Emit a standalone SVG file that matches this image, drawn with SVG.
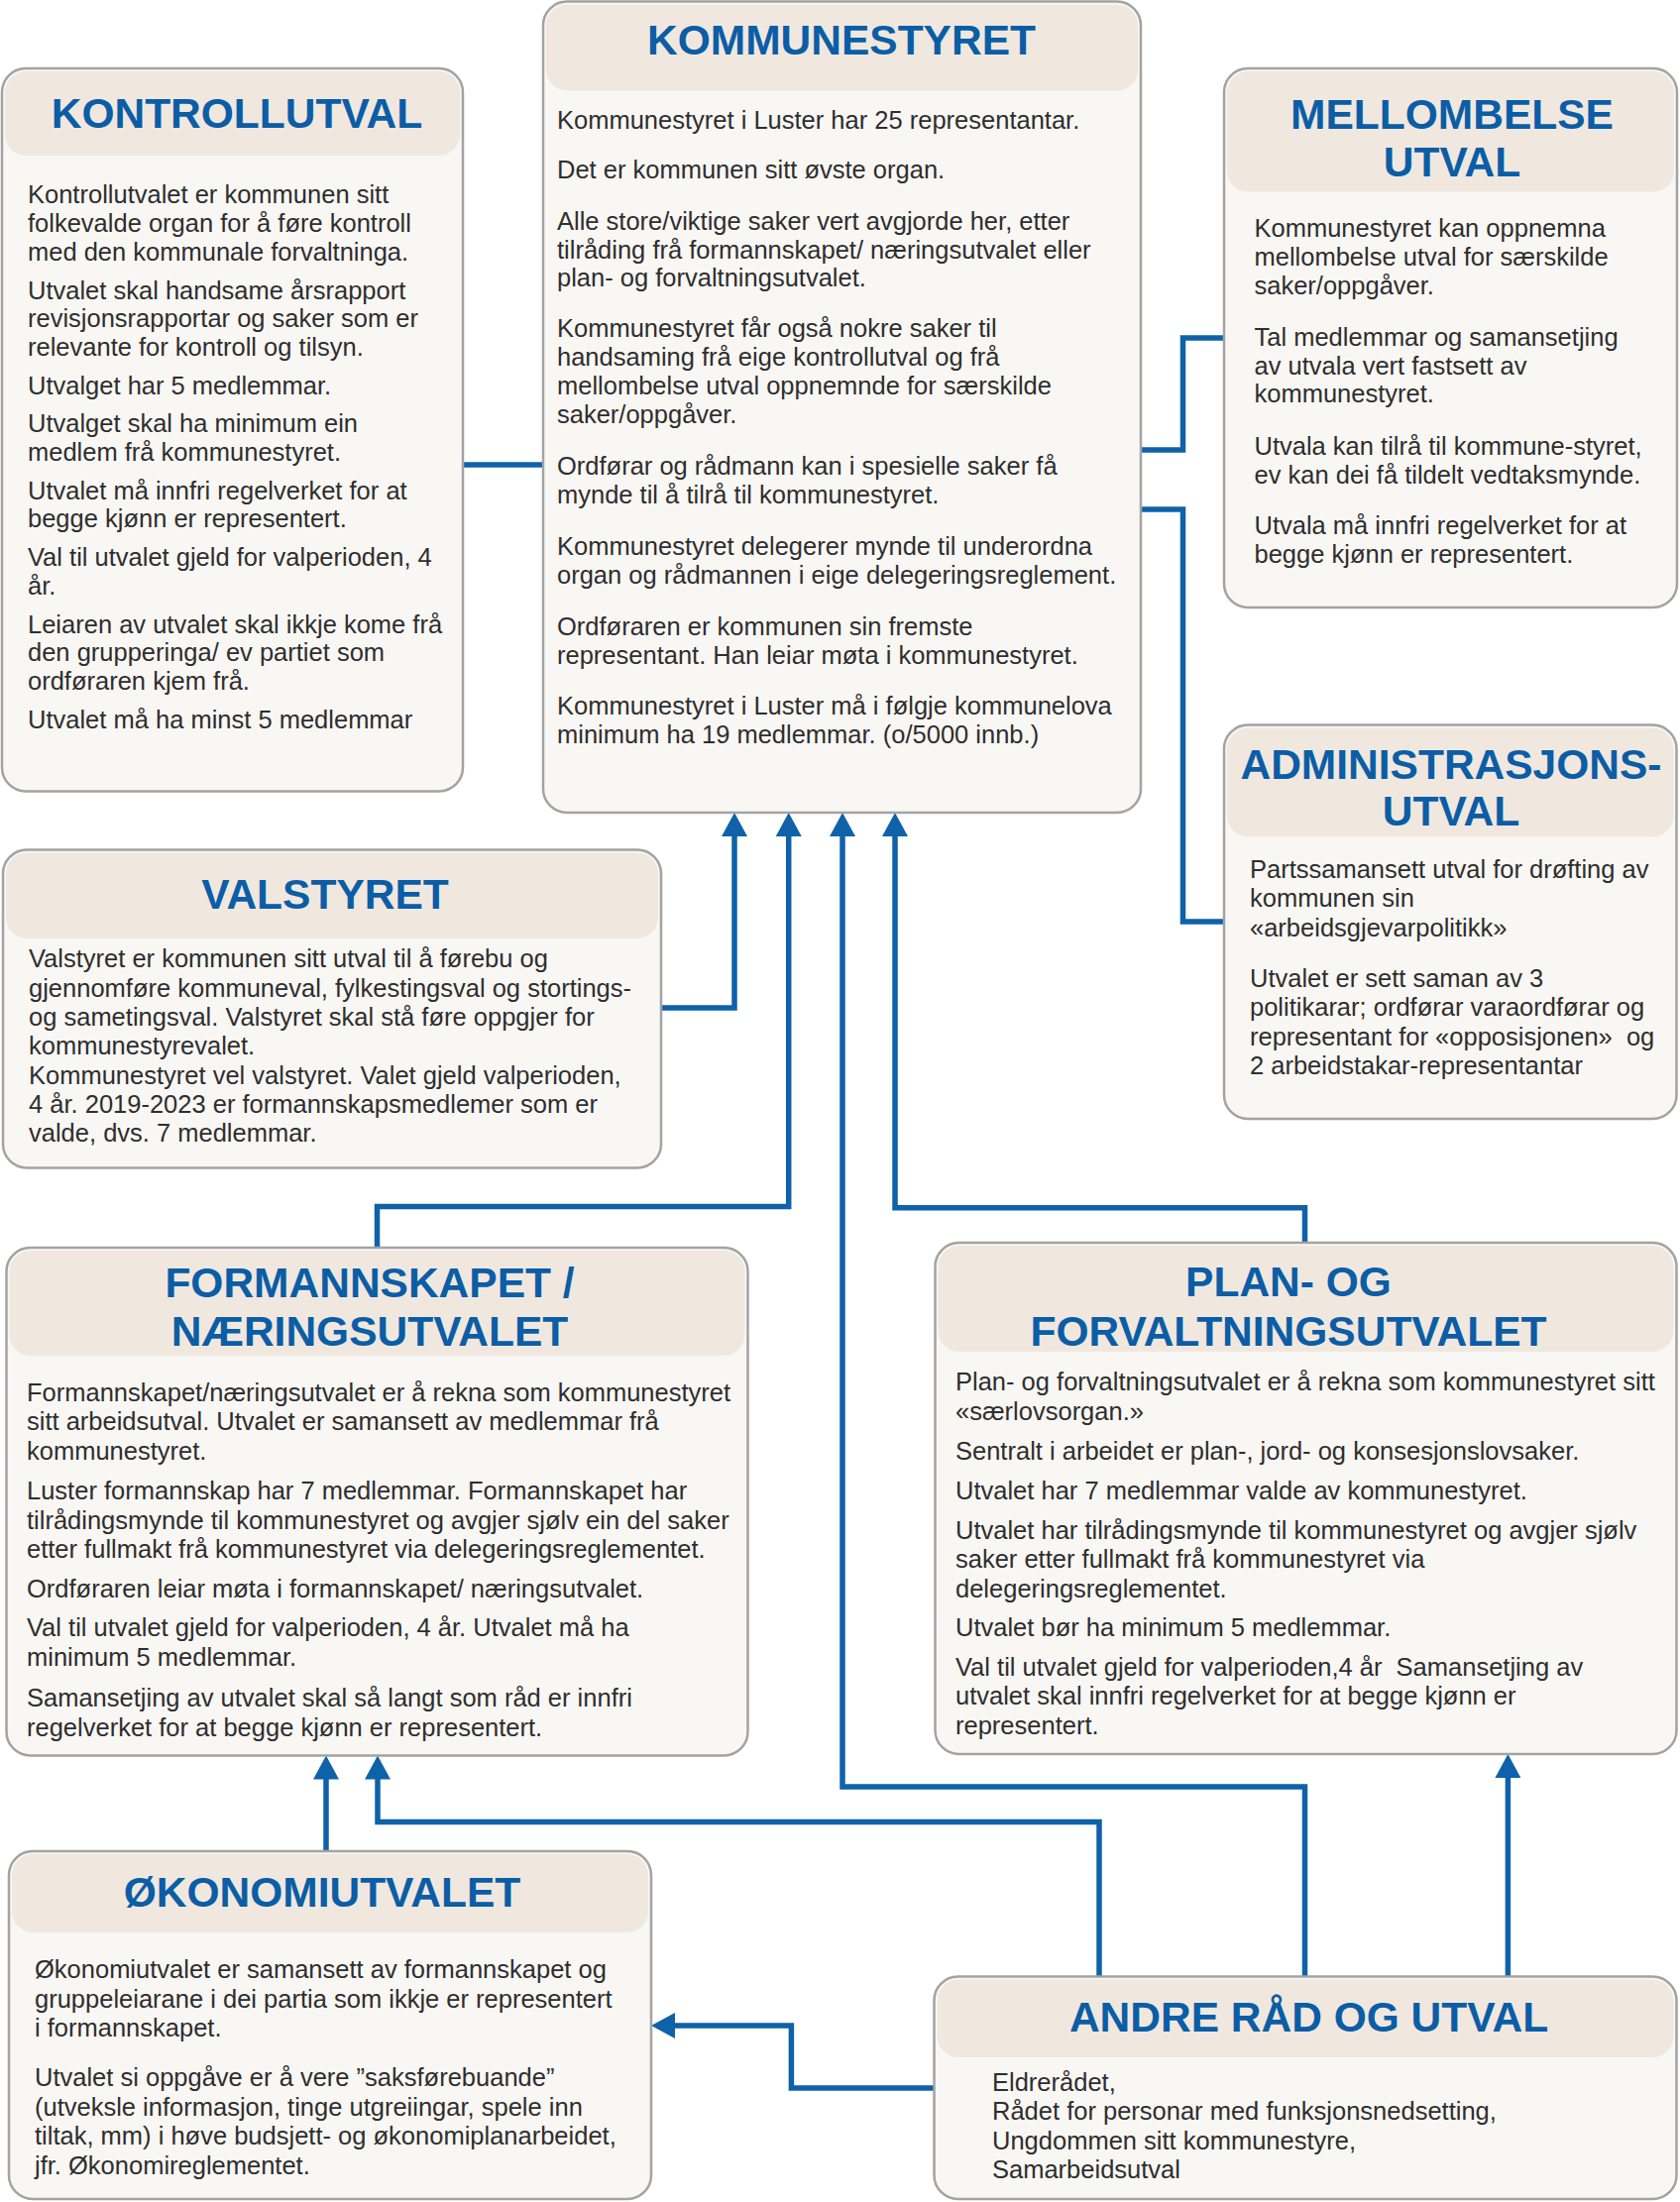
<svg xmlns="http://www.w3.org/2000/svg" width="1695" height="2222" viewBox="0 0 1695 2222">
<style>
.box{fill:#f9f7f4;stroke:#a3a3a3;stroke-width:2.5}
.hdr{fill:#f0e8df}
.ttl{font-family:"Liberation Sans",Arial,sans-serif;font-weight:bold;font-size:42.5px;fill:#0b5da6;text-anchor:middle}
.bd{font-family:"Liberation Sans",Arial,sans-serif;font-size:25.5px;fill:#2e2e2e}
.cn{fill:none;stroke:#0f62a9;stroke-width:5.5;stroke-linejoin:miter}
</style>
<defs>
<marker id="ah" markerUnits="userSpaceOnUse" markerWidth="24" markerHeight="26" refX="18" refY="13" orient="auto" viewBox="0 0 24 26"><path d="M0,0 L24,13 L0,26 z" fill="#0f62a9"/></marker>
</defs>
<rect width="1695" height="2222" fill="#ffffff"/>

<g id="connectors">
<path class="cn" d="M467,469 H548"/>
<path class="cn" d="M1151,454 H1193.5 V341 H1235"/>
<path class="cn" d="M1151,514 H1193.5 V930 H1235"/>
<path class="cn" d="M667,1017 H741 V826" marker-end="url(#ah)"/>
<path class="cn" d="M380.5,1259 V1217.5 H795.7 V826" marker-end="url(#ah)"/>
<path class="cn" d="M1316.5,1994.5 V1803 H850 V826" marker-end="url(#ah)"/>
<path class="cn" d="M1316.5,1254 V1218.8 H903 V826" marker-end="url(#ah)"/>
<path class="cn" d="M329,1868 V1777.5" marker-end="url(#ah)"/>
<path class="cn" d="M1109,1994.5 V1838.6 H381 V1777.5" marker-end="url(#ah)"/>
<path class="cn" d="M1521.4,1994.5 V1776" marker-end="url(#ah)"/>
<path class="cn" d="M942.5,2107 H798.4 V2044 H663" marker-end="url(#ah)"/>
</g>

<g id="kontrollutval">
<rect class="box" x="2" y="69" width="465" height="729.5" rx="24"/>
<rect class="hdr" x="5" y="72" width="459" height="85" rx="21"/>
<text class="ttl" x="239" y="129">KONTROLLUTVAL</text>
<text class="bd">
<tspan x="28" y="205">Kontrollutvalet er kommunen sitt</tspan>
<tspan x="28" y="233.8">folkevalde organ for å føre kontroll</tspan>
<tspan x="28" y="262.6">med den kommunale forvaltninga.</tspan>
<tspan x="28" y="301.5">Utvalet skal handsame årsrapport</tspan>
<tspan x="28" y="330.3">revisjonsrapportar og saker som er</tspan>
<tspan x="28" y="359.1">relevante for kontroll og tilsyn.</tspan>
<tspan x="28" y="397.5">Utvalget har 5 medlemmar.</tspan>
<tspan x="28" y="436">Utvalget skal ha minimum ein</tspan>
<tspan x="28" y="464.8">medlem frå kommunestyret.</tspan>
<tspan x="28" y="503.5">Utvalet må innfri regelverket for at</tspan>
<tspan x="28" y="532.3">begge kjønn er representert.</tspan>
<tspan x="28" y="571">Val til utvalet gjeld for valperioden, 4</tspan>
<tspan x="28" y="599.8">år.</tspan>
<tspan x="28" y="638.5">Leiaren av utvalet skal ikkje kome frå</tspan>
<tspan x="28" y="667.3">den grupperinga/ ev partiet som</tspan>
<tspan x="28" y="696.1">ordføraren kjem frå.</tspan>
<tspan x="28" y="735">Utvalet må ha minst 5 medlemmar</tspan>
</text>
</g>

<g id="kommunestyret">
<rect class="box" x="548" y="1.5" width="603" height="818.5" rx="24"/>
<rect class="hdr" x="551" y="4.5" width="597" height="87" rx="21"/>
<text class="ttl" x="849" y="55">KOMMUNESTYRET</text>
<text class="bd">
<tspan x="562" y="129.7">Kommunestyret i Luster har 25 representantar.</tspan>
<tspan x="562" y="180.4">Det er kommunen sitt øvste organ.</tspan>
<tspan x="562" y="231.7">Alle store/viktige saker vert avgjorde her, etter</tspan>
<tspan x="562" y="260.5">tilråding frå formannskapet/ næringsutvalet eller</tspan>
<tspan x="562" y="289.3">plan- og forvaltningsutvalet.</tspan>
<tspan x="562" y="340">Kommunestyret får også nokre saker til</tspan>
<tspan x="562" y="369">handsaming frå eige kontrollutval og frå</tspan>
<tspan x="562" y="398">mellombelse utval oppnemnde for særskilde</tspan>
<tspan x="562" y="427">saker/oppgåver.</tspan>
<tspan x="562" y="478.5">Ordførar og rådmann kan i spesielle saker få</tspan>
<tspan x="562" y="507.5">mynde til å tilrå til kommunestyret.</tspan>
<tspan x="562" y="559.5">Kommunestyret delegerer mynde til underordna</tspan>
<tspan x="562" y="588.5">organ og rådmannen i eige delegeringsreglement.</tspan>
<tspan x="562" y="640.5">Ordføraren er kommunen sin fremste</tspan>
<tspan x="562" y="669.5">representant. Han leiar møta i kommunestyret.</tspan>
<tspan x="562" y="720.5">Kommunestyret i Luster må i følgje kommunelova</tspan>
<tspan x="562" y="749.5">minimum ha 19 medlemmar. (o/5000 innb.)</tspan>
</text>
</g>

<g id="mellombelse-utval">
<rect class="box" x="1235" y="69" width="457" height="544" rx="24"/>
<rect class="hdr" x="1238" y="72" width="451" height="121.5" rx="21"/>
<text class="ttl" x="1465" y="130">MELLOMBELSE</text>
<text class="ttl" x="1465" y="178">UTVAL</text>
<text class="bd">
<tspan x="1265.5" y="239">Kommunestyret kan oppnemna</tspan>
<tspan x="1265.5" y="268">mellombelse utval for særskilde</tspan>
<tspan x="1265.5" y="297">saker/oppgåver.</tspan>
<tspan x="1265.5" y="348.8">Tal medlemmar og samansetjing</tspan>
<tspan x="1265.5" y="377.6">av utvala vert fastsett av</tspan>
<tspan x="1265.5" y="406.4">kommunestyret.</tspan>
<tspan x="1265.5" y="459">Utvala kan tilrå til kommune-styret,</tspan>
<tspan x="1265.5" y="488">ev kan dei få tildelt vedtaksmynde.</tspan>
<tspan x="1265.5" y="538.7">Utvala må innfri regelverket for at</tspan>
<tspan x="1265.5" y="567.5">begge kjønn er representert.</tspan>
</text>
</g>

<g id="administrasjonsutval">
<rect class="box" x="1235" y="731.5" width="456.5" height="397.5" rx="24"/>
<rect class="hdr" x="1238" y="734.5" width="450.5" height="110" rx="21"/>
<text class="ttl" x="1464" y="786">ADMINISTRASJONS-</text>
<text class="ttl" x="1464" y="833">UTVAL</text>
<text class="bd" xml:space="preserve"><tspan x="1261" y="885.5">Partssamansett utval for drøfting av</tspan><tspan x="1261" y="915">kommunen sin</tspan><tspan x="1261" y="944.5">«arbeidsgjevarpolitikk»</tspan><tspan x="1261" y="996">Utvalet er sett saman av 3</tspan><tspan x="1261" y="1025.3">politikarar; ordførar varaordførar og</tspan><tspan x="1261" y="1054.6">representant for «opposisjonen»  og</tspan><tspan x="1261" y="1084">2 arbeidstakar-representantar</tspan></text>
</g>

<g id="valstyret">
<rect class="box" x="3" y="857.5" width="664" height="321" rx="24"/>
<rect class="hdr" x="6" y="860.5" width="658" height="86.5" rx="21"/>
<text class="ttl" x="328" y="917">VALSTYRET</text>
<text class="bd">
<tspan x="29" y="976">Valstyret er kommunen sitt utval til å førebu og</tspan>
<tspan x="29" y="1005.5">gjennomføre kommuneval, fylkestingsval og stortings-</tspan>
<tspan x="29" y="1035">og sametingsval. Valstyret skal stå føre oppgjer for</tspan>
<tspan x="29" y="1064.3">kommunestyrevalet.</tspan>
<tspan x="29" y="1093.6">Kommunestyret vel valstyret. Valet gjeld valperioden,</tspan>
<tspan x="29" y="1123">4 år. 2019-2023 er formannskapsmedlemer som er</tspan>
<tspan x="29" y="1152.3">valde, dvs. 7 medlemmar.</tspan>
</text>
</g>

<g id="formannskapet">
<rect class="box" x="6.5" y="1259" width="748" height="512.5" rx="24"/>
<rect class="hdr" x="9.5" y="1262" width="742" height="106" rx="21"/>
<text class="ttl" x="373" y="1309">FORMANNSKAPET /</text>
<text class="ttl" x="373" y="1357.6">NÆRINGSUTVALET</text>
<text class="bd">
<tspan x="27" y="1413.6">Formannskapet/næringsutvalet er å rekna som kommunestyret</tspan>
<tspan x="27" y="1443">sitt arbeidsutval. Utvalet er samansett av medlemmar frå</tspan>
<tspan x="27" y="1472.5">kommunestyret.</tspan>
<tspan x="27" y="1513">Luster formannskap har 7 medlemmar. Formannskapet har</tspan>
<tspan x="27" y="1542.5">tilrådingsmynde til kommunestyret og avgjer sjølv ein del saker</tspan>
<tspan x="27" y="1572">etter fullmakt frå kommunestyret via delegeringsreglementet.</tspan>
<tspan x="27" y="1612">Ordføraren leiar møta i formannskapet/ næringsutvalet.</tspan>
<tspan x="27" y="1651">Val til utvalet gjeld for valperioden, 4 år. Utvalet må ha</tspan>
<tspan x="27" y="1680.5">minimum 5 medlemmar.</tspan>
<tspan x="27" y="1722">Samansetjing av utvalet skal så langt som råd er innfri</tspan>
<tspan x="27" y="1751.5">regelverket for at begge kjønn er representert.</tspan>
</text>
</g>

<g id="plan-og-forvaltningsutvalet">
<rect class="box" x="943.5" y="1254" width="748" height="516" rx="24"/>
<rect class="hdr" x="946.5" y="1257" width="742" height="107" rx="21"/>
<text class="ttl" x="1300" y="1308">PLAN- OG</text>
<text class="ttl" x="1300" y="1358">FORVALTNINGSUTVALET</text>
<text class="bd" xml:space="preserve"><tspan x="964" y="1403">Plan- og forvaltningsutvalet er å rekna som kommunestyret sitt</tspan><tspan x="964" y="1432.5">«særlovsorgan.»</tspan><tspan x="964" y="1472.5">Sentralt i arbeidet er plan-, jord- og konsesjonslovsaker.</tspan><tspan x="964" y="1512.5">Utvalet har 7 medlemmar valde av kommunestyret.</tspan><tspan x="964" y="1552.5">Utvalet har tilrådingsmynde til kommunestyret og avgjer sjølv</tspan><tspan x="964" y="1582">saker etter fullmakt frå kommunestyret via</tspan><tspan x="964" y="1611.5">delegeringsreglementet.</tspan><tspan x="964" y="1650.5">Utvalet bør ha minimum 5 medlemmar.</tspan><tspan x="964" y="1690.5">Val til utvalet gjeld for valperioden,4 år  Samansetjing av</tspan><tspan x="964" y="1720">utvalet skal innfri regelverket for at begge kjønn er</tspan><tspan x="964" y="1749.5">representert.</tspan></text>
</g>

<g id="okonomiutvalet">
<rect class="box" x="9" y="1868" width="648" height="351" rx="24"/>
<rect class="hdr" x="12" y="1871" width="642" height="79" rx="21"/>
<text class="ttl" x="325" y="1924">ØKONOMIUTVALET</text>
<text class="bd">
<tspan x="35" y="1996">Økonomiutvalet er samansett av formannskapet og</tspan>
<tspan x="35" y="2025.5">gruppeleiarane i dei partia som ikkje er representert</tspan>
<tspan x="35" y="2055">i formannskapet.</tspan>
<tspan x="35" y="2105">Utvalet si oppgåve er å vere ”saksførebuande”</tspan>
<tspan x="35" y="2134.5">(utveksle informasjon, tinge utgreiingar, spele inn</tspan>
<tspan x="35" y="2164">tiltak, mm) i høve budsjett- og økonomiplanarbeidet,</tspan>
<tspan x="35" y="2193.5">jfr. Økonomireglementet.</tspan>
</text>
</g>

<g id="andre-rad-og-utval">
<rect class="box" x="942.5" y="1994.5" width="749" height="224.5" rx="24"/>
<rect class="hdr" x="945.5" y="1997.5" width="743" height="78.5" rx="21"/>
<text class="ttl" x="1320.5" y="2050">ANDRE RÅD OG UTVAL</text>
<text class="bd">
<tspan x="1001" y="2109.5">Eldrerådet,</tspan>
<tspan x="1001" y="2139">Rådet for personar med funksjonsnedsetting,</tspan>
<tspan x="1001" y="2168.5">Ungdommen sitt kommunestyre,</tspan>
<tspan x="1001" y="2198">Samarbeidsutval</tspan>
</text>
</g>
</svg>
